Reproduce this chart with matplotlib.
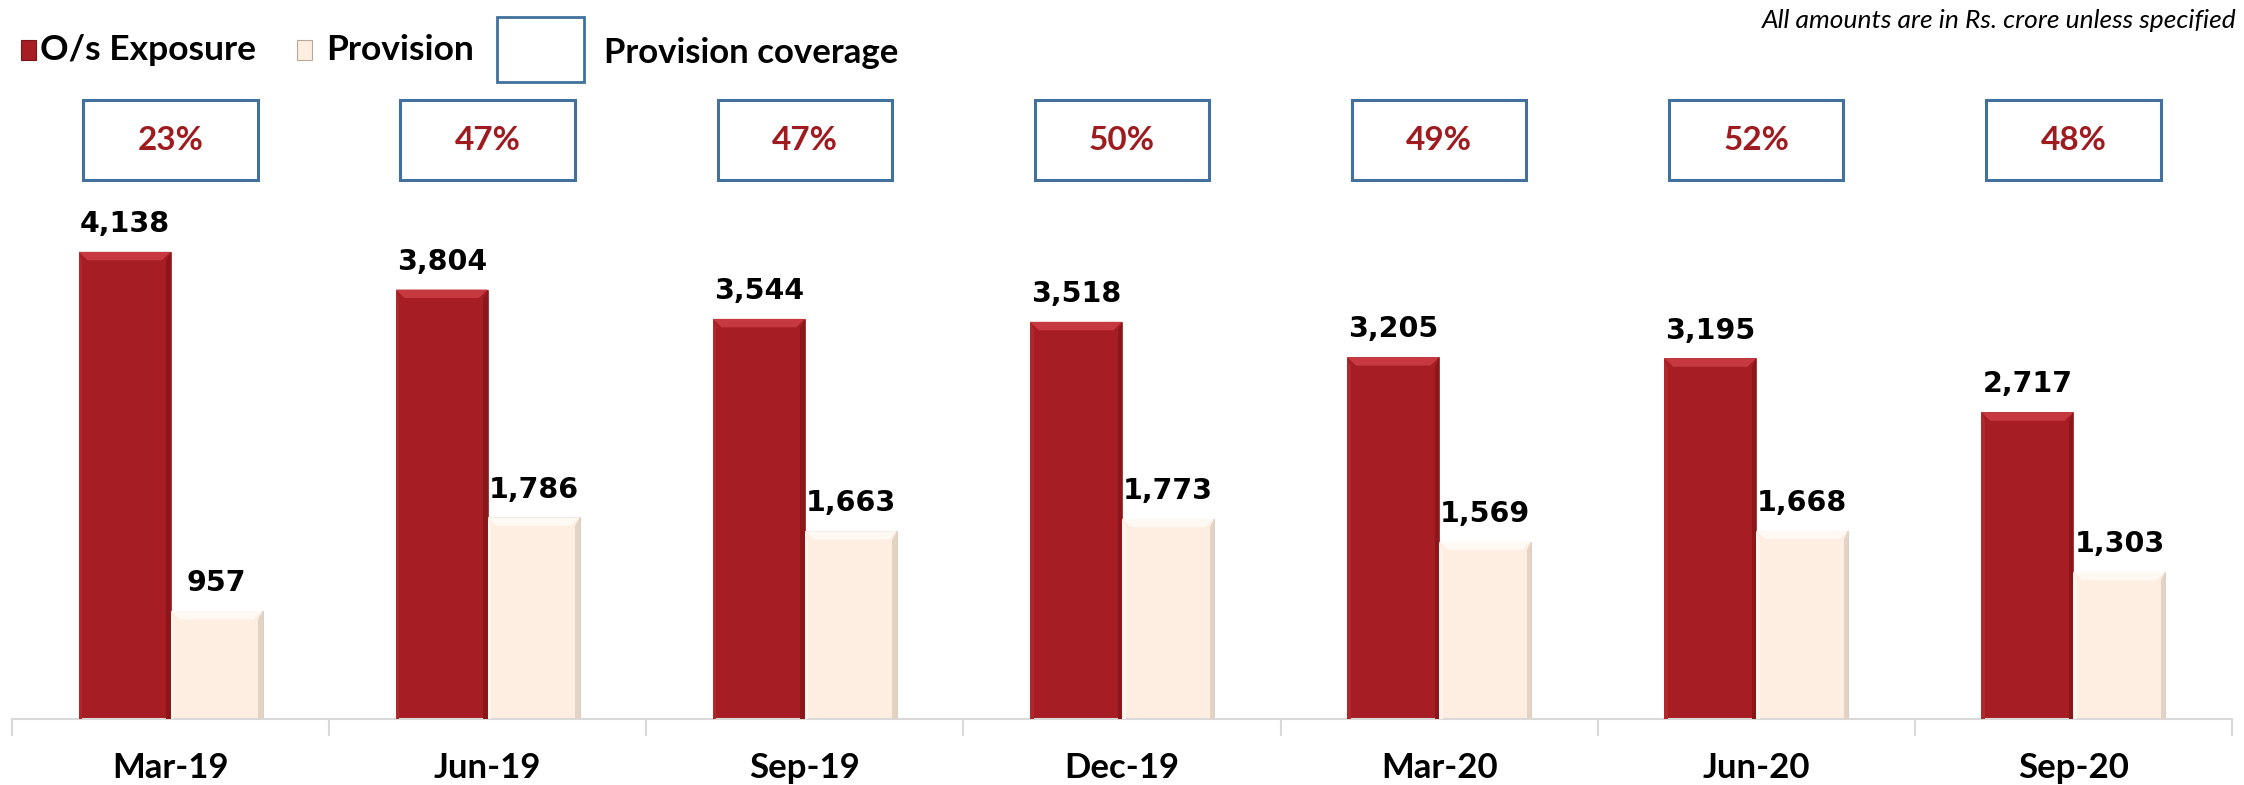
import matplotlib
matplotlib.use('Agg')
import matplotlib.pyplot as plt
from matplotlib.patches import Rectangle, Polygon
import matplotlib.transforms as mtransforms

# Data
quarters = ['Mar-19', 'Jun-19', 'Sep-19', 'Dec-19', 'Mar-20', 'Jun-20', 'Sep-20']
exposure = [4138, 3804, 3544, 3518, 3205, 3195, 2717]
provision = [957, 1786, 1663, 1773, 1569, 1668, 1303]
coverage = ['23%', '47%', '47%', '50%', '49%', '52%', '48%']

RED = '#A61E23'
CREAM = '#FDEEE1'
BLUE = '#41719C'
PCT = '#9E1B20'
W, H = 2244, 785

fig = plt.figure(figsize=(W / 100, H / 100), dpi=100)
ax = fig.add_axes([12 / W, (H - 719) / H, 2220 / W, 719 / H])
ax.set_xlim(-0.5, len(quarters) - 0.5)
ax.set_ylim(0, 719 / 0.1129)

x = list(range(len(quarters)))
bw = 0.29
b1 = ax.bar([i - bw / 2 for i in x], exposure, bw, color=RED, edgecolor='#8E1A1E', linewidth=0.5, zorder=2)
b2 = ax.bar([i + bw / 2 for i in x], provision, bw, color=CREAM, edgecolor='#CDBFB2', linewidth=0.5, zorder=2)

# bevel effect
dx, dy = 0.028, 75
def bevel(bars, top_c, side_c, left_c):
    for b in bars:
        x0, w, h = b.get_x(), b.get_width(), b.get_height()
        ax.add_patch(Polygon([(x0, h), (x0 + w, h), (x0 + w - dx, h - dy), (x0 + dx, h - dy)],
                             closed=True, color=top_c, lw=0, zorder=3))
        ax.add_patch(Polygon([(x0 + w, h), (x0 + w, 0), (x0 + w - dx * 0.5, 0), (x0 + w - dx * 0.5, h - dy)],
                             closed=True, color=side_c, lw=0, zorder=3))
        ax.add_patch(Polygon([(x0, h), (x0, 0), (x0 + dx * 0.4, 0), (x0 + dx * 0.4, h - dy)],
                             closed=True, color=left_c, lw=0, zorder=3))
bevel(b1, '#C63940', '#8C171B', '#B0272C')
bevel(b2, '#FFF9F4', '#E3D3C5', '#FFF5EC')

for bars in (b1, b2):
    for b in bars:
        ax.annotate(f'{int(b.get_height()):,}', (b.get_x() + b.get_width() / 2, b.get_height()),
                    xytext=(0, 20), textcoords='offset points', ha='center', va='center',
                    fontsize=20.5, fontweight='bold', family='DejaVu Sans', color='black')

# coverage boxes
tr = mtransforms.blended_transform_factory(ax.transData, fig.transFigure)
bx_w = 0.55
y0, y1 = 1 - 180 / H, 1 - 100 / H
for i, c in zip(x, coverage):
    fig.patches.append(Rectangle((i - bx_w / 2, y0), bx_w, y1 - y0, transform=tr,
                                 fill=False, edgecolor=BLUE, linewidth=2.2))
    fig.text(i, (y0 + y1) / 2, c, transform=tr, ha='center', va='center',
             fontsize=24, fontweight='bold', family='Lato', color=PCT)

# axes styling
for s in ['top', 'right', 'left']:
    ax.spines[s].set_visible(False)
ax.spines['bottom'].set_color('#D9D9D9')
ax.spines['bottom'].set_linewidth(1.5)
ax.set_yticks([])
ax.set_xticks(x)
ax.set_xticklabels(quarters, fontsize=25, fontweight='bold', family='Lato')
ax.tick_params(axis='x', which='major', length=0, pad=24)
ax.set_xticks([i - 0.5 for i in range(len(quarters) + 1)], minor=True)
ax.tick_params(axis='x', which='minor', length=12, width=1.5, color='#D9D9D9')

# legend
def fig_rect(xp, yp, wp, hp, **kw):
    fig.patches.append(Rectangle((xp / W, 1 - (yp + hp) / H), wp / W, hp / H,
                                 transform=fig.transFigure, **kw))
fig_rect(21, 40, 15, 20, facecolor=RED, edgecolor='#7A1418', linewidth=0.8)
fig_rect(297, 40, 15, 20, facecolor=CREAM, edgecolor='#B8A898', linewidth=0.8)
fig_rect(497, 17, 87, 65, fill=False, edgecolor=BLUE, linewidth=2)
ly = 1 - 50 / H
fig.text(40 / W, ly, 'O/s Exposure', ha='left', va='center', fontsize=25.5, fontweight='bold', family='Lato')
fig.text(326 / W, ly, 'Provision', ha='left', va='center', fontsize=25.5, fontweight='bold', family='Lato')
fig.text(604 / W, 1 - 53 / H, 'Provision coverage', ha='left', va='center', fontsize=25, fontweight='bold', family='Lato')
fig.text(2237 / W, 1 - 20 / H, 'All amounts are in Rs. crore unless specified', ha='right', va='center',
         fontsize=19, style='italic', family='Lato')

fig.savefig('out.png', dpi=100)
